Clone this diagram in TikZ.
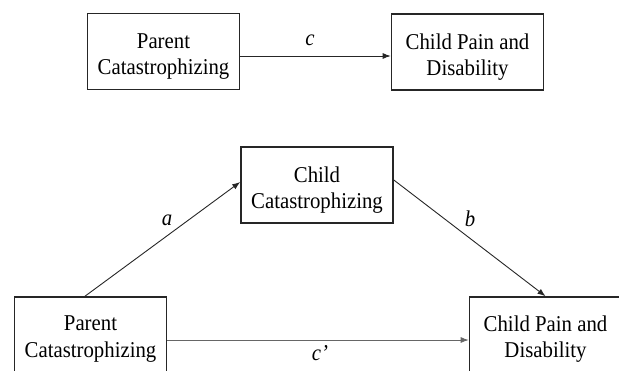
\documentclass[tikz,border=0pt]{standalone}
\usepackage{fontspec}
\setmainfont{Liberation Serif}[FakeStretch=0.92]
\usetikzlibrary{arrows.meta}
\begin{document}
\begin{tikzpicture}[x=1pt,y=-1pt,
  box/.style={draw=black!85,line width=1.6pt,minimum width=152pt,minimum height=76pt,inner sep=0pt},
  txt/.style={align=center,inner sep=0pt,font=\fontsize{22.6}{26.5}\selectfont},
  conn/.style={draw=black!85,line width=0.9pt,-{Latex[length=8pt,width=6pt]}},
  lbl/.style={font=\fontsize{22.6}{24}\selectfont\itshape}]
\useasboundingbox (0,0) rectangle (619,370);
\node[box] (tl) at (163.5,51.5) {};
\node[box] (tr) at (467.5,52) {};
\node[box] (mid) at (317,185) {};
\node[box] (bl) at (90.5,335) {};
\node[box] (br) at (545.5,335) {};
\node[txt] (tlt) at ([yshift=-5pt]tl.center) {Parent\\Catastrophizing};
\node[txt] (trt) at ([yshift=-5pt]tr.center) {Child Pain and\\Disability};
\node[txt] (midt) at ([yshift=-5pt]mid.center) {Child\\Catastrophizing};
\node[txt] (blt) at ([yshift=-4pt]bl.center) {Parent\\Catastrophizing};
\node[txt] (brt) at ([yshift=-4pt]br.center) {Child Pain and\\Disability};
\draw[conn] ([yshift=-4.5pt]tl.east) -- ([yshift=-4pt]tr.west);
\draw[conn] ([xshift=-5.5pt]bl.north) -- ([yshift=3pt]mid.west);
\draw[conn] ([yshift=5pt]mid.east) -- (br.north);
\draw[conn,draw=black!60] ([yshift=-5pt]bl.east) -- ([yshift=-5pt]br.west);
\node[lbl] (lc) at (310,40) {c};
\node[lbl] (la) at (167,220) {a};
\node[lbl] (lb) at (470,219) {b};
\node[lbl] (lcp) at (320,353) {c’};
\end{tikzpicture}
\end{document}
